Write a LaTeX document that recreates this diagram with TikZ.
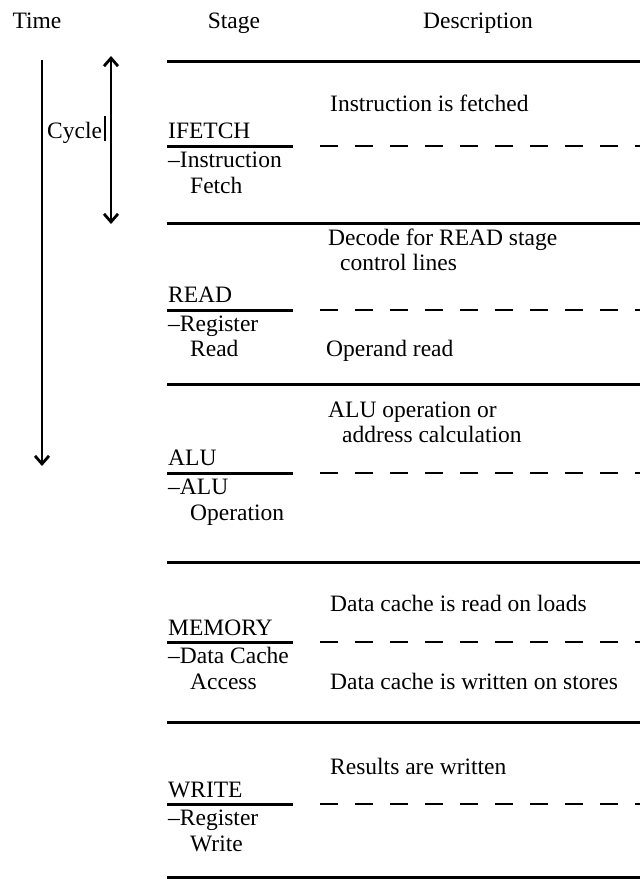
\documentclass[tikz,border=0pt]{standalone}
\usepackage{fontspec}
\newfontfamily\printfont{Liberation Serif}[Ligatures=TeX]
\usetikzlibrary{arrows.meta}
\tikzset{
  lbl/.style={anchor=base west, inner sep=0pt, font=\fontsize{23.5}{25}\printfont},
  hdr/.style={anchor=base, inner sep=0pt, font=\fontsize{23.5}{25}\printfont},
  rule/.style={line width=3pt},
  dashrule/.style={line width=2.8pt, dash pattern=on 18pt off 17pt},
  timearrow/.style={line width=2.8pt, -{Straight Barb[length=8pt,width=14pt,line width=2.8pt]}},
  cyclearrow/.style={line width=2.8pt, {Straight Barb[length=8pt,width=14pt,line width=2.8pt]}-{Straight Barb[length=8pt,width=14pt,line width=2.8pt]}}
}
\begin{document}
\begin{tikzpicture}[x=1pt,y=-1pt]
\useasboundingbox (0,0) rectangle (640,879);

% column headers
\node[hdr] (hTime)  at (37,28)  {Time};
\node[hdr] (hStage) at (234,28) {Stage};
\node[hdr] (hDesc)  at (478,28) {Description};

% time axis and cycle marker
\coordinate (t0) at (42,60);
\coordinate (t1) at (42,466);
\draw[timearrow] (t0) -- (t1);
\coordinate (c0) at (111,56);
\coordinate (c1) at (111,224);
\draw[cyclearrow] (c0) -- (c1);
\node[lbl] (cyc) at (47,138) {Cycle};
\coordinate (b0) at (105,116);
\coordinate (b1) at (105,141);
\draw[line width=2.4pt] (b0) -- (b1);

% horizontal separators between stages
\foreach \y [count=\i] in {61,223,384,562,722,877}{
  \coordinate (sL\i) at (167,\y);
  \coordinate (sR\i) at (640,\y);
  \draw[rule] (sL\i) -- (sR\i);
}

% stage underline + dashed split inside each stage
\foreach \y [count=\i] in {146,310,473,642,804}{
  \coordinate (uL\i) at (167,\y);
  \coordinate (uR\i) at (293,\y);
  \coordinate (dL\i) at (320,\y);
  \coordinate (dR\i) at (640,\y);
  \draw[rule] (uL\i) -- (uR\i);
  \draw[dashrule] (dL\i) -- (dR\i);
}

% IFETCH
\node[lbl] (s1)  at (168,138) {IFETCH};
\node[lbl] (s1a) at (168,167) {--Instruction};
\node[lbl] (s1b) at (190,193) {Fetch};
\node[lbl] (d1)  at (330,111) {Instruction is fetched};

% READ
\node[lbl] (s2)  at (168,302) {READ};
\node[lbl] (s2a) at (168,331) {--Register};
\node[lbl] (s2b) at (190,356) {Read};
\node[lbl] (d2)  at (328,245) {Decode for READ stage};
\node[lbl] (d2b) at (340,270) {control lines};
\node[lbl] (d2c) at (326,356) {Operand read};

% ALU
\node[lbl] (s3)  at (168,465) {ALU};
\node[lbl] (s3a) at (168,494) {--ALU};
\node[lbl] (s3b) at (190,520) {Operation};
\node[lbl] (d3)  at (328,417) {ALU operation or};
\node[lbl] (d3b) at (342,442) {address calculation};

% MEMORY
\node[lbl] (s4)  at (168,635) {MEMORY};
\node[lbl] (s4a) at (168,663) {--Data Cache};
\node[lbl] (s4b) at (190,689) {Access};
\node[lbl] (d4)  at (330,611) {Data cache is read on loads};
\node[lbl] (d4b) at (330,689) {Data cache is written on stores};

% WRITE
\node[lbl] (s5)  at (168,797) {WRITE};
\node[lbl] (s5a) at (168,825) {--Register};
\node[lbl] (s5b) at (190,851) {Write};
\node[lbl] (d5)  at (330,774) {Results are written};
\end{tikzpicture}
\end{document}
